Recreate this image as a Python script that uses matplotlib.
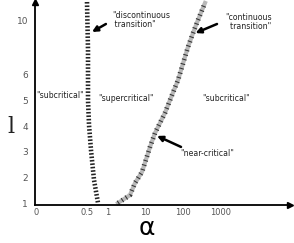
import numpy as np
import matplotlib
matplotlib.use("Agg")
import matplotlib.pyplot as plt

# schematic phase diagram: alpha (x) vs l (y)
X_TICKS = [0, 0.5, 1, 10, 100, 1000]
X_TICKLABELS = ["0", "0.5", "1", "10", "100", "1000"]
Y_TICKS = [1, 2, 3, 4, 5, 6, 10]
Y_TICKLABELS = ["1", "2", "3", "4", "5", "6", "10"]

# discontinuous transition line
disc_alpha = [0.5, 0.524, 0.524, 0.548, 0.595, 0.667, 0.762]
disc_l = [11.31, 7.82, 5.02, 4.05, 3.07, 1.9, 1.0]

# continuous transition line
cont_alpha = [1.85, 3.86, 5.25, 8.07, 13.2, 17.9, 24.4, 33.1, 45.0, 73.6, 136, 185, 251, 386]
cont_l = [1.0, 1.31, 1.78, 2.21, 3.19, 3.73, 4.13, 4.52, 5.02, 5.80, 8.04, 9.05, 10.0, 11.24]

# region labels (alpha, l, text)
region_alpha = [0.235, 3.0, 1400]
region_l = [5.18, 5.10, 5.10]
region_text = ['"subcritical"', '"supercritical"', '"subcritical"']


def fx(a):
    a = np.asarray(a, float)
    lin1 = a / 0.5 * 51
    lin2 = 51 + (a - 0.5) / 0.5 * 21
    lg = 72 + 37.5 * np.log10(np.maximum(a, 1))
    return np.where(a <= 0.5, lin1, np.where(a <= 1, lin2, lg))


def fx_inv(p):
    p = np.asarray(p, float)
    lg = 10 ** ((np.clip(p, 72, 600) - 72) / 37.5)
    return np.where(p <= 51, p / 51 * 0.5, np.where(p <= 72, 0.5 + (p - 51) / 21 * 0.5, lg))


def fy(l):
    l = np.asarray(l, float)
    return np.where(l <= 6, (l - 1) * 25.6, 128 + (l - 6) * 13.75)


def fy_inv(q):
    q = np.asarray(q, float)
    return np.where(q <= 128, 1 + q / 25.6, 6 + (q - 128) / 13.75)


TXT = dict(fontsize=5.6, color="#222", family=["Liberation Sans Narrow", "DejaVu Sans"])

fig = plt.figure(figsize=(2.94, 2.43), dpi=100)
ax = fig.add_axes([35 / 294, 38 / 243, 255 / 294, 203 / 243])
ax.set_xscale("function", functions=(fx, fx_inv))
ax.set_yscale("function", functions=(fy, fy_inv))
ax.set_xlim(fx_inv(-1), fx_inv(254))
ax.set_ylim(fy_inv(-2), fy_inv(201))

for s in ["top", "right"]:
    ax.spines[s].set_visible(False)
for s in ["left", "bottom"]:
    ax.spines[s].set_linewidth(1.3)
ax.plot(1, 0, ">k", ms=4, transform=ax.transAxes, clip_on=False)
ax.plot(0, 1, "^k", ms=4, transform=ax.transAxes, clip_on=False)

ax.set_xticks(X_TICKS)
ax.set_xticklabels(X_TICKLABELS)
ax.set_yticks(Y_TICKS)
ax.set_yticklabels(Y_TICKLABELS)
ax.xaxis.set_minor_locator(matplotlib.ticker.NullLocator())
ax.yaxis.set_minor_locator(matplotlib.ticker.NullLocator())
ax.tick_params(axis="x", length=0, labelsize=6, labelcolor="#555", pad=2.5)
ax.tick_params(axis="y", length=0, labelsize=6.5, labelcolor="#555", pad=5)

# transition lines
ax.plot(disc_alpha, disc_l, color="#222", lw=3.3, ls=(0, (0.35, 0.4)), clip_on=False)
ax.plot(cont_alpha, cont_l, color="0.72", lw=3, clip_on=False)
ax.plot(cont_alpha, cont_l, color="#333", lw=3.5, ls=(0, (0.22, 0.75)), clip_on=False)

for a, l, t in zip(region_alpha, region_l, region_text):
    ax.text(a, l, t, ha="center", va="center", **TXT)

arrow = dict(arrowstyle="-|>", color="black", lw=1.8, mutation_scale=8, shrinkA=0, shrinkB=0)
ax.annotate("", xy=(0.619, 9.13), xytext=(0.95, 9.71), arrowprops=arrow)
ax.annotate("", xy=(215, 9.05), xytext=(807, 9.71), arrowprops=arrow)
ax.annotate("", xy=(20.3, 3.62), xytext=(88.5, 3.19), arrowprops=arrow)

ax.text(1.28, 10.0, '"discontinuous\n transition"', ha="left", va="center", linespacing=1.1, **TXT)
ax.text(1318, 9.85, '"continuous\n  transition"', ha="left", va="center", linespacing=1.1, **TXT)
ax.text(437, 2.95, '"near-critical"', ha="center", va="center", **TXT)

ax.set_ylabel("l", rotation=0, fontsize=16, family="DejaVu Serif", color="#222")
ax.yaxis.set_label_coords(-0.094, 0.33)
ax.set_xlabel("α", fontsize=18, color="black")
ax.xaxis.set_label_coords(0.439, -0.055)

fig.savefig("out.png", dpi=100)
